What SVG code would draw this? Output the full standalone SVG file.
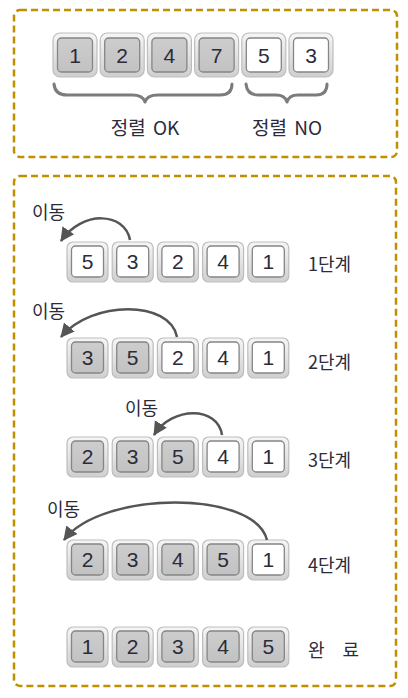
<svg xmlns="http://www.w3.org/2000/svg" width="408" height="698" viewBox="0 0 408 698">
<defs>
<linearGradient id="bezel" x1="0" y1="0" x2="0" y2="1">
<stop offset="0" stop-color="#f6f6f6"/>
<stop offset="1" stop-color="#cfcfcf"/>
</linearGradient>
<linearGradient id="dark" x1="0" y1="0" x2="0" y2="1">
<stop offset="0" stop-color="#cdcdcd"/>
<stop offset="1" stop-color="#c2c2c2"/>
</linearGradient>
<marker id="ah" markerUnits="userSpaceOnUse" markerWidth="16" markerHeight="16" viewBox="0 0 16 16" refX="13" refY="8" orient="auto">
<path d="M0,1 L14,8 L0,15 z" fill="#555"/>
</marker>
</defs>
<style>
.frame{fill:none;stroke:#bf9000;stroke-width:2.5;stroke-dasharray:7 4}
.outer{fill:url(#bezel);stroke:#bdbdbd;stroke-width:1.2}
.in-s{fill:url(#dark);stroke:#858585;stroke-width:1.3}
.in-u{fill:#ffffff;stroke:#858585;stroke-width:1.3}
.num{font-family:"Liberation Sans",Arial,sans-serif;font-size:21px;fill:#2b2b3a;text-anchor:middle}
.lbl{font-family:"Noto Sans CJK KR","Liberation Sans",sans-serif;font-size:18px;fill:#2b2b3a}
.big{font-size:19px;text-anchor:middle;word-spacing:3px}
.brace{fill:none;stroke:#7c7c7c;stroke-width:3;stroke-linecap:round;stroke-linejoin:round}
.arr{fill:none;stroke:#555;stroke-width:2.5}
</style>

<rect class="frame" x="14" y="10" width="383" height="147" rx="6"/>
<rect class="frame" x="14" y="176" width="382" height="510" rx="6"/>

<!-- top example -->
<g id="top-tiles">
<g id="t1"><rect class="outer" x="53" y="33" width="44" height="44" rx="7"/><rect class="in-s" x="57.5" y="38" width="35" height="34" rx="4"/><text class="num" x="75" y="63">1</text></g>
<g id="t2"><rect class="outer" x="100.2" y="33" width="44" height="44" rx="7"/><rect class="in-s" x="104.7" y="38" width="35" height="34" rx="4"/><text class="num" x="122.2" y="63">2</text></g>
<g id="t3"><rect class="outer" x="147.4" y="33" width="44" height="44" rx="7"/><rect class="in-s" x="151.9" y="38" width="35" height="34" rx="4"/><text class="num" x="169.4" y="63">4</text></g>
<g id="t4"><rect class="outer" x="194.6" y="33" width="44" height="44" rx="7"/><rect class="in-s" x="199.1" y="38" width="35" height="34" rx="4"/><text class="num" x="216.6" y="63">7</text></g>
<g id="t5"><rect class="outer" x="241.8" y="33" width="44" height="44" rx="7"/><rect class="in-u" x="246.3" y="38" width="35" height="34" rx="4"/><text class="num" x="263.8" y="63">5</text></g>
<g id="t6"><rect class="outer" x="289" y="33" width="44" height="44" rx="7"/><rect class="in-u" x="293.5" y="38" width="35" height="34" rx="4"/><text class="num" x="311" y="63">3</text></g>
</g>
<g id="braces">
<path class="brace" d="M54,84 Q55,95 67,95 L132,95 Q143,95 145,102 Q147,95 158,95 L220,95 Q232,95 232,84"/>
<path class="brace" d="M246,84 Q247,95 258,95 L276,95 Q285,95 287,102 Q289,95 298,95 L316,95 Q327,95 327,84"/>
</g>
<g id="top-labels">
<text class="lbl big" x="145" y="135">정렬 OK</text>
<text class="lbl big" x="287" y="135">정렬 NO</text>
</g>

<!-- row 1 -->
<g id="row1">
<g><rect class="outer" x="67" y="242" width="41" height="40" rx="6"/><rect class="in-u" x="71.5" y="246" width="32" height="31" rx="4"/><text class="num" x="87.5" y="269">5</text></g>
<g><rect class="outer" x="112.2" y="242" width="41" height="40" rx="6"/><rect class="in-u" x="116.7" y="246" width="32" height="31" rx="4"/><text class="num" x="132.7" y="269">3</text></g>
<g><rect class="outer" x="157.4" y="242" width="41" height="40" rx="6"/><rect class="in-u" x="161.9" y="246" width="32" height="31" rx="4"/><text class="num" x="177.9" y="269">2</text></g>
<g><rect class="outer" x="202.6" y="242" width="41" height="40" rx="6"/><rect class="in-u" x="207.1" y="246" width="32" height="31" rx="4"/><text class="num" x="223.1" y="269">4</text></g>
<g><rect class="outer" x="247.8" y="242" width="41" height="40" rx="6"/><rect class="in-u" x="252.3" y="246" width="32" height="31" rx="4"/><text class="num" x="268.3" y="269">1</text></g>
<text class="lbl" x="308" y="271">1단계</text>
<text class="lbl" x="32" y="219">이동</text>
</g>

<!-- row 2 -->
<g id="row2">
<g><rect class="outer" x="67" y="338" width="41" height="40" rx="6"/><rect class="in-s" x="71.5" y="342" width="32" height="31" rx="4"/><text class="num" x="87.5" y="365">3</text></g>
<g><rect class="outer" x="112.2" y="338" width="41" height="40" rx="6"/><rect class="in-s" x="116.7" y="342" width="32" height="31" rx="4"/><text class="num" x="132.7" y="365">5</text></g>
<g><rect class="outer" x="157.4" y="338" width="41" height="40" rx="6"/><rect class="in-u" x="161.9" y="342" width="32" height="31" rx="4"/><text class="num" x="177.9" y="365">2</text></g>
<g><rect class="outer" x="202.6" y="338" width="41" height="40" rx="6"/><rect class="in-u" x="207.1" y="342" width="32" height="31" rx="4"/><text class="num" x="223.1" y="365">4</text></g>
<g><rect class="outer" x="247.8" y="338" width="41" height="40" rx="6"/><rect class="in-u" x="252.3" y="342" width="32" height="31" rx="4"/><text class="num" x="268.3" y="365">1</text></g>
<text class="lbl" x="308" y="369">2단계</text>
<text class="lbl" x="32" y="318">이동</text>
</g>

<!-- row 3 -->
<g id="row3">
<g><rect class="outer" x="67" y="437" width="41" height="40" rx="6"/><rect class="in-s" x="71.5" y="441" width="32" height="31" rx="4"/><text class="num" x="87.5" y="464">2</text></g>
<g><rect class="outer" x="112.2" y="437" width="41" height="40" rx="6"/><rect class="in-s" x="116.7" y="441" width="32" height="31" rx="4"/><text class="num" x="132.7" y="464">3</text></g>
<g><rect class="outer" x="157.4" y="437" width="41" height="40" rx="6"/><rect class="in-s" x="161.9" y="441" width="32" height="31" rx="4"/><text class="num" x="177.9" y="464">5</text></g>
<g><rect class="outer" x="202.6" y="437" width="41" height="40" rx="6"/><rect class="in-u" x="207.1" y="441" width="32" height="31" rx="4"/><text class="num" x="223.1" y="464">4</text></g>
<g><rect class="outer" x="247.8" y="437" width="41" height="40" rx="6"/><rect class="in-u" x="252.3" y="441" width="32" height="31" rx="4"/><text class="num" x="268.3" y="464">1</text></g>
<text class="lbl" x="308" y="467">3단계</text>
<text class="lbl" x="125" y="415">이동</text>
</g>

<!-- row 4 -->
<g id="row4">
<g><rect class="outer" x="67" y="540" width="41" height="40" rx="6"/><rect class="in-s" x="71.5" y="544" width="32" height="31" rx="4"/><text class="num" x="87.5" y="567">2</text></g>
<g><rect class="outer" x="112.2" y="540" width="41" height="40" rx="6"/><rect class="in-s" x="116.7" y="544" width="32" height="31" rx="4"/><text class="num" x="132.7" y="567">3</text></g>
<g><rect class="outer" x="157.4" y="540" width="41" height="40" rx="6"/><rect class="in-s" x="161.9" y="544" width="32" height="31" rx="4"/><text class="num" x="177.9" y="567">4</text></g>
<g><rect class="outer" x="202.6" y="540" width="41" height="40" rx="6"/><rect class="in-s" x="207.1" y="544" width="32" height="31" rx="4"/><text class="num" x="223.1" y="567">5</text></g>
<g><rect class="outer" x="247.8" y="540" width="41" height="40" rx="6"/><rect class="in-u" x="252.3" y="544" width="32" height="31" rx="4"/><text class="num" x="268.3" y="567">1</text></g>
<text class="lbl" x="308" y="572">4단계</text>
<text class="lbl" x="47" y="516">이동</text>
</g>

<!-- row 5 -->
<g id="row5">
<g><rect class="outer" x="67" y="627" width="41" height="40" rx="6"/><rect class="in-s" x="71.5" y="631" width="32" height="31" rx="4"/><text class="num" x="87.5" y="654">1</text></g>
<g><rect class="outer" x="112.2" y="627" width="41" height="40" rx="6"/><rect class="in-s" x="116.7" y="631" width="32" height="31" rx="4"/><text class="num" x="132.7" y="654">2</text></g>
<g><rect class="outer" x="157.4" y="627" width="41" height="40" rx="6"/><rect class="in-s" x="161.9" y="631" width="32" height="31" rx="4"/><text class="num" x="177.9" y="654">3</text></g>
<g><rect class="outer" x="202.6" y="627" width="41" height="40" rx="6"/><rect class="in-s" x="207.1" y="631" width="32" height="31" rx="4"/><text class="num" x="223.1" y="654">4</text></g>
<g><rect class="outer" x="247.8" y="627" width="41" height="40" rx="6"/><rect class="in-s" x="252.3" y="631" width="32" height="31" rx="4"/><text class="num" x="268.3" y="654">5</text></g>
<text class="lbl" x="308" y="657" style="word-spacing:14px">완 료</text>
</g>

<g id="connectors">
<path class="arr" marker-end="url(#ah)" d="M130,240 C125,212 82,210 61,241"/>
<path class="arr" marker-end="url(#ah)" d="M177,337 C170,300 92,300 61,337"/>
<path class="arr" marker-end="url(#ah)" d="M222,435 C218,406 172,406 154,435"/>
<path class="arr" marker-end="url(#ah)" d="M267,540 C255,490 102,490 64,540"/>
</g>
</svg>
